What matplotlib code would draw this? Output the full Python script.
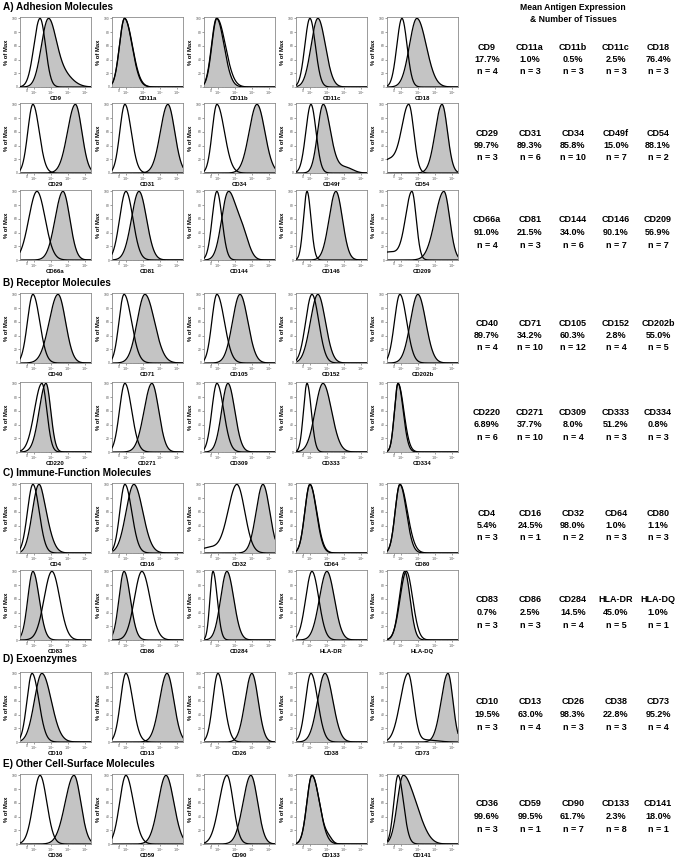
import numpy as np
import matplotlib
matplotlib.use("Agg")
import matplotlib.pyplot as plt

plt.rcParams['font.family'] = ['Liberation Sans', 'DejaVu Sans']

# ---------------- data ----------------
section_titles = ["A) Adhesion Molecules", "B) Receptor Molecules",
                  "C) Immune-Function Molecules", "D) Exoenzymes",
                  "E) Other Cell-Surface Molecules"]

markers = [
    ["CD9", "CD11a", "CD11b", "CD11c", "CD18"],
    ["CD29", "CD31", "CD34", "CD49f", "CD54"],
    ["CD66a", "CD81", "CD144", "CD146", "CD209"],
    ["CD40", "CD71", "CD105", "CD152", "CD202b"],
    ["CD220", "CD271", "CD309", "CD333", "CD334"],
    ["CD4", "CD16", "CD32", "CD64", "CD80"],
    ["CD83", "CD86", "CD284", "HLA-DR", "HLA-DQ"],
    ["CD10", "CD13", "CD26", "CD38", "CD73"],
    ["CD36", "CD59", "CD90", "CD133", "CD141"],
]
expression = [
    ["17.7%", "1.0%", "0.5%", "2.5%", "76.4%"],
    ["99.7%", "89.3%", "85.8%", "15.0%", "88.1%"],
    ["91.0%", "21.5%", "34.0%", "90.1%", "56.9%"],
    ["89.7%", "34.2%", "60.3%", "2.8%", "55.0%"],
    ["6.89%", "37.7%", "8.0%", "51.2%", "0.8%"],
    ["5.4%", "24.5%", "98.0%", "1.0%", "1.1%"],
    ["0.7%", "2.5%", "14.5%", "45.0%", "1.0%"],
    ["19.5%", "63.0%", "98.3%", "22.8%", "95.2%"],
    ["99.6%", "99.5%", "61.7%", "2.3%", "18.0%"],
]
tissues = [
    [4, 3, 3, 3, 3],
    [3, 6, 10, 7, 2],
    [4, 3, 6, 7, 7],
    [4, 10, 12, 4, 5],
    [6, 10, 4, 3, 3],
    [3, 1, 2, 3, 3],
    [3, 3, 4, 5, 1],
    [3, 4, 3, 3, 4],
    [3, 1, 7, 8, 1],
]

# Histogram peaks: (height, position in decades, left width, right width)
control_peaks = [
    [[(100, 2.34, 0.36, 0.32)], [(100, 1.90, 0.30, 0.46)], [(100, 1.92, 0.30, 0.50)],
     [(100, 1.98, 0.30, 0.32)], [(100, 2.04, 0.30, 0.30)]],
    [[(100, 1.92, 0.30, 0.37)], [(100, 1.92, 0.30, 0.37)], [(100, 1.92, 0.28, 0.44)],
     [(100, 2.04, 0.30, 0.30)], [(100, 2.45, 0.41, 0.29), (20, 1.30, 0.60, 0.60)]],
    [[(100, 2.16, 0.48, 0.48)], [(100, 1.98, 0.37, 0.41)], [(100, 1.92, 0.28, 0.30)],
     [(100, 1.81, 0.21, 0.23)], [(100, 2.63, 0.37, 0.25), (12, 1.30, 0.70, 0.70)]],
    [[(100, 1.92, 0.32, 0.40)], [(100, 1.87, 0.30, 0.44)], [(100, 1.92, 0.30, 0.44)],
     [(100, 2.10, 0.37, 0.40)], [(100, 1.92, 0.32, 0.40)]],
    [[(100, 2.45, 0.44, 0.29)], [(100, 1.92, 0.32, 0.40)], [(100, 1.92, 0.30, 0.40)],
     [(100, 1.81, 0.21, 0.25)], [(100, 1.81, 0.21, 0.34)]],
    [[(100, 1.92, 0.32, 0.37)], [(100, 1.92, 0.30, 0.40)], [(100, 3.10, 0.52, 0.46), (8, 1.50, 0.60, 0.60)],
     [(100, 1.98, 0.30, 0.40)], [(100, 1.92, 0.28, 0.44)]],
    [[(100, 3.04, 0.46, 0.46)], [(100, 2.92, 0.44, 0.48)], [(100, 1.69, 0.18, 0.25)],
     [(100, 2.10, 0.37, 0.40)], [(100, 2.30, 0.37, 0.37)]],
    [[(100, 1.87, 0.30, 0.40)], [(100, 1.98, 0.32, 0.40)], [(100, 1.98, 0.30, 0.37)],
     [(100, 2.04, 0.32, 0.40)], [(100, 2.40, 0.46, 0.32), (3, 3.50, 0.60, 0.60)]],
    [[(100, 2.34, 0.40, 0.40)], [(100, 1.98, 0.37, 0.44)], [(100, 2.51, 0.46, 0.37)],
     [(100, 2.10, 0.30, 0.44)], [(100, 1.81, 0.25, 0.32)]],
]
sample_peaks = [
    [[(100, 2.80, 0.40, 0.44), (24, 3.55, 0.50, 0.60)], [(100, 1.90, 0.30, 0.44)], [(100, 1.90, 0.30, 0.44)],
     [(100, 2.45, 0.40, 0.44)], [(100, 2.92, 0.44, 0.55)]],
    [[(100, 4.42, 0.46, 0.38)], [(100, 4.45, 0.44, 0.40)], [(100, 4.28, 0.46, 0.46)],
     [(100, 2.75, 0.32, 0.40), (10, 3.35, 0.50, 0.50), (6, 4.20, 0.38, 0.38)], [(100, 4.40, 0.40, 0.32)]],
    [[(100, 3.69, 0.46, 0.40)], [(100, 2.75, 0.44, 0.44)], [(100, 2.57, 0.38, 0.44), (40, 3.40, 0.38, 0.38)],
     [(100, 3.51, 0.40, 0.38)], [(100, 4.51, 0.52, 0.34)]],
    [[(100, 3.40, 0.52, 0.44)], [(100, 3.10, 0.46, 0.56)], [(100, 3.28, 0.44, 0.46)],
     [(100, 2.45, 0.44, 0.44)], [(100, 2.98, 0.44, 0.46)]],
    [[(100, 2.69, 0.40, 0.28)], [(100, 3.51, 0.46, 0.40)], [(100, 2.57, 0.37, 0.40)],
     [(100, 2.75, 0.46, 0.50)], [(100, 1.81, 0.21, 0.30)]],
    [[(95, 2.10, 0.34, 0.34), (100, 2.45, 0.34, 0.44)], [(100, 2.45, 0.46, 0.52)], [(100, 4.63, 0.40, 0.40)],
     [(100, 1.98, 0.30, 0.38)], [(100, 1.92, 0.28, 0.38)]],
    [[(100, 1.92, 0.30, 0.37)], [(100, 1.87, 0.30, 0.37)], [(100, 2.51, 0.37, 0.40)],
     [(100, 2.98, 0.44, 0.44)], [(100, 2.20, 0.32, 0.32)]],
    [[(100, 2.45, 0.44, 0.55)], [(100, 4.40, 0.44, 0.40)], [(100, 3.98, 0.40, 0.37)],
     [(100, 2.87, 0.44, 0.46)], [(100, 4.75, 0.40, 0.29)]],
    [[(100, 4.34, 0.52, 0.40)], [(100, 4.34, 0.46, 0.46)], [(100, 3.92, 0.46, 0.40)],
     [(100, 2.10, 0.30, 0.44), (6, 3.10, 0.20, 0.20)], [(100, 2.10, 0.34, 0.56), (25, 3.00, 0.40, 0.50)]],
]

x_tick_pos = [1.55, 2, 3, 4, 5]
x_tick_labels = ["0", "$10^2$", "$10^3$", "$10^4$", "$10^5$"]
y_ticks = [0, 20, 40, 60, 80, 100]

# ---------------- layout (pixels) ----------------
W, H = 686, 861
fig = plt.figure(figsize=(W / 100, H / 100), dpi=100)

col_left = [20, 112, 204, 296, 387]
row_top = [17, 103, 190, 293, 382, 483, 570, 672, 774]
ax_w, ax_h = 71, 70
title_y = [7, 283, 473, 659, 764]
table_x = [487, 530, 573, 616, 658]

XMIN, XMAX = 1.16, 5.34
u = np.linspace(XMIN, XMAX, 500)


def curve(peaks):
    y = np.zeros_like(u)
    for amp, mu, sl, sr in peaks:
        s = np.where(u < mu, sl, sr)
        y += amp * np.exp(-0.5 * ((u - mu) / s) ** 2)
    return 100 * y / y.max()


def fx(px):
    return px / W


def fy(py):
    return 1 - py / H


minor = []
for k in range(2, 6):
    for m in range(2, 10):
        p = k + np.log10(m)
        if p < XMAX:
            minor.append(p)
minor += [1.3, 1.42, 1.68, 1.8]

for r in range(9):
    for c in range(5):
        ax = fig.add_axes([fx(col_left[c]), fy(row_top[r] + ax_h), ax_w / W, ax_h / H])
        ys = curve(sample_peaks[r][c])
        yc = curve(control_peaks[r][c])
        ax.fill_between(u, 0, ys, color="#c4c4c4", lw=0, zorder=1)
        ax.plot(u, ys, color="black", lw=0.9, zorder=2)
        ax.plot(u, yc, color="black", lw=0.9, zorder=3)
        ax.set_xlim(XMIN, XMAX)
        ax.set_ylim(0, 102)
        ax.set_xticks(x_tick_pos)
        ax.set_xticklabels(x_tick_labels)
        ax.set_xticks(minor, minor=True)
        ax.set_yticks(y_ticks)
        ax.tick_params(axis="both", labelsize=2.4, length=1.2, width=0.4, pad=0.5,
                       colors="#555555", labelcolor="#555555")
        ax.tick_params(axis="x", which="minor", length=0.8, width=0.3, colors="#555555")
        for sp in ax.spines.values():
            sp.set_color("#8a8a8a")
            sp.set_linewidth(0.6)
        ax.set_xlabel(markers[r][c], fontsize=4.3, fontweight="bold")
        ax.xaxis.set_label_coords(0.5, -0.165)
        ax.xaxis.label.set_va("center")
        ax.set_ylabel("% of Max", fontsize=4.2, fontweight="bold")
        ax.yaxis.set_label_coords(-0.19, 0.5)
        ax.yaxis.label.set_va("center")

# section titles
for t, yy in zip(section_titles, title_y):
    fig.text(fx(3), fy(yy), t, fontsize=7.2, fontweight="bold", ha="left", va="center")

# table header
fig.text(fx(573), fy(7), "Mean Antigen Expression", fontsize=6.2, fontweight="bold",
         ha="center", va="center")
fig.text(fx(573), fy(19), "& Number of Tissues", fontsize=6.2, fontweight="bold",
         ha="center", va="center")

# table values
for r in range(9):
    for c in range(5):
        x = fx(table_x[c])
        fig.text(x, fy(row_top[r] + 30), markers[r][c], fontsize=6.5, fontweight="bold",
                 ha="center", va="center")
        fig.text(x, fy(row_top[r] + 42.5), expression[r][c], fontsize=6.5, fontweight="bold",
                 ha="center", va="center")
        fig.text(x, fy(row_top[r] + 55), f"n = {tissues[r][c]}", fontsize=6.5,
                 fontweight="bold", ha="center", va="center")

fig.savefig("out.png", dpi=100)
